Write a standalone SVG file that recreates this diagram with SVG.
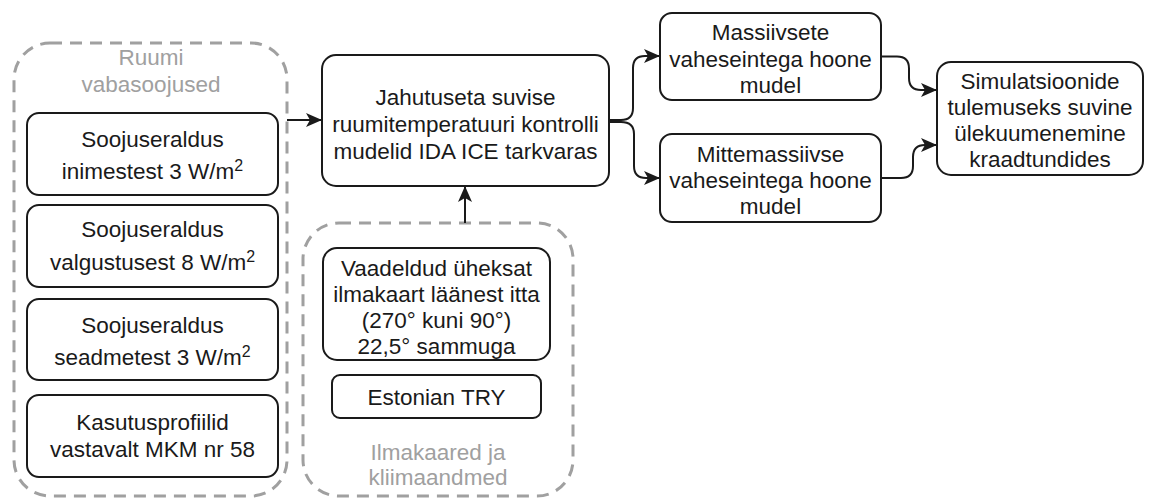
<svg xmlns="http://www.w3.org/2000/svg" width="1171" height="498" viewBox="0 0 1171 498">
  <style>
    .box { fill: #ffffff; stroke: #1a1a1a; stroke-width: 2; }
    .group { fill: none; stroke: #a0a0a0; stroke-width: 3; stroke-dasharray: 12 8; }
    .t { font-family: "Liberation Sans", Arial, sans-serif; font-size: 22.5px; fill: #1a1a1a; text-anchor: middle; }
    .lbl { font-family: "Liberation Sans", Arial, sans-serif; font-size: 22.5px; fill: #a0a0a0; text-anchor: middle; }
    .sup { font-size: 16px; }
    .edge { fill: none; stroke: #1a1a1a; stroke-width: 2; }
  </style>
  <defs>
    <marker id="arrow" markerUnits="userSpaceOnUse" markerWidth="18" markerHeight="16" viewBox="0 0 18 16" refX="16" refY="7" orient="auto">
      <path d="M0,0 L16,7 L0,14 L4,7 Z" fill="#1a1a1a"/>
    </marker>
  </defs>

  <!-- group frames -->
  <g id="group-vabasoojused">
    <rect class="group" x="14" y="43" width="273" height="453" rx="36"/>
    <text class="lbl" x="151" y="65">Ruumi</text>
    <text class="lbl" x="151" y="92">vabasoojused</text>
  </g>
  <g id="group-ilmakaared">
    <rect class="group" x="303" y="223" width="270" height="273" rx="36"/>
    <text class="lbl" x="438" y="460">Ilmakaared ja</text>
    <text class="lbl" x="438" y="485">kliimaandmed</text>
  </g>

  <!-- connectors -->
  <g id="connectors">
    <path class="edge" d="M287,120 H322" marker-end="url(#arrow)"/>
    <path class="edge" d="M465,223 V186" marker-end="url(#arrow)"/>
    <path class="edge" d="M609,120 H621 Q633,120 633,108 V68 Q633,56 645,56 H660" marker-end="url(#arrow)"/>
    <path class="edge" d="M609,122 H621 Q634,122 634,134 V166 Q634,178 646,178 H660" marker-end="url(#arrow)"/>
    <path class="edge" d="M881,56.5 H897 Q909,56.5 909,68.5 V78 Q909,90 921,90 H937" marker-end="url(#arrow)"/>
    <path class="edge" d="M881,178 H901 Q913,178 913,166 V157 Q913,145 925,145 H937" marker-end="url(#arrow)"/>
  </g>

  <!-- heat gain nodes -->
  <g id="node-inimestest">
    <rect class="box" x="27" y="113" width="251" height="82" rx="12"/>
    <text class="t" x="152.5" y="147">Soojuseraldus</text>
    <text class="t" x="152.5" y="179">inimestest 3 W/m<tspan class="sup" dy="-8">2</tspan></text>
  </g>
  <g id="node-valgustusest">
    <rect class="box" x="27" y="205" width="251" height="82" rx="12"/>
    <text class="t" x="152.5" y="237">Soojuseraldus</text>
    <text class="t" x="152.5" y="270">valgustusest 8 W/m<tspan class="sup" dy="-8">2</tspan></text>
  </g>
  <g id="node-seadmetest">
    <rect class="box" x="27" y="299" width="251" height="81" rx="12"/>
    <text class="t" x="152.5" y="333">Soojuseraldus</text>
    <text class="t" x="152.5" y="365">seadmetest 3 W/m<tspan class="sup" dy="-8">2</tspan></text>
  </g>
  <g id="node-kasutusprofiilid">
    <rect class="box" x="27" y="395" width="251" height="82" rx="12"/>
    <text class="t" x="152.5" y="430">Kasutusprofiilid</text>
    <text class="t" x="152.5" y="457">vastavalt MKM nr 58</text>
  </g>

  <!-- model node -->
  <g id="node-mudelid">
    <rect class="box" x="322" y="55" width="287" height="131" rx="14"/>
    <text class="t" x="465.5" y="105">Jahutuseta suvise</text>
    <text class="t" x="465.5" y="132">ruumitemperatuuri kontrolli</text>
    <text class="t" x="465.5" y="159">mudelid IDA ICE tarkvaras</text>
  </g>

  <!-- orientation and climate nodes -->
  <g id="node-ilmakaared">
    <rect class="box" x="323" y="248" width="227" height="112" rx="14"/>
    <text class="t" x="436.5" y="276">Vaadeldud üheksat</text>
    <text class="t" x="436.5" y="302">ilmakaart läänest itta</text>
    <text class="t" x="436.5" y="328">(270° kuni 90°)</text>
    <text class="t" x="436.5" y="354">22,5° sammuga</text>
  </g>
  <g id="node-try">
    <rect class="box" x="332" y="375" width="209" height="43" rx="8"/>
    <text class="t" x="436.5" y="405">Estonian TRY</text>
  </g>

  <!-- building models -->
  <g id="node-massiivsete">
    <rect class="box" x="660" y="13" width="221" height="87" rx="12"/>
    <text class="t" x="770.5" y="40">Massiivsete</text>
    <text class="t" x="770.5" y="67">vaheseintega hoone</text>
    <text class="t" x="770.5" y="93">mudel</text>
  </g>
  <g id="node-mittemassiivse">
    <rect class="box" x="660" y="134" width="221" height="88" rx="12"/>
    <text class="t" x="770.5" y="162">Mittemassiivse</text>
    <text class="t" x="770.5" y="188">vaheseintega hoone</text>
    <text class="t" x="770.5" y="214">mudel</text>
  </g>

  <!-- result node -->
  <g id="node-tulemus">
    <rect class="box" x="937" y="62" width="206" height="113" rx="14"/>
    <text class="t" x="1040" y="89">Simulatsioonide</text>
    <text class="t" x="1040" y="115">tulemuseks suvine</text>
    <text class="t" x="1040" y="141">ülekuumenemine</text>
    <text class="t" x="1040" y="167">kraadtundides</text>
  </g>
</svg>
